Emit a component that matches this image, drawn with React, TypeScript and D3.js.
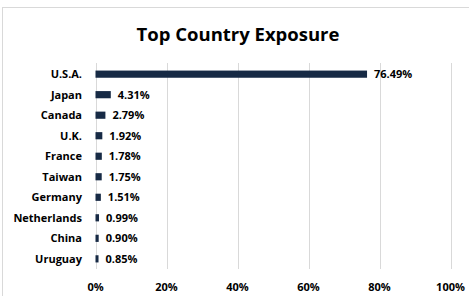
import React, { useRef, useEffect } from "react";
import * as d3 from "d3";

const countries = ["U.S.A.", "Japan", "Canada", "U.K.", "France", "Taiwan", "Germany", "Netherlands", "China", "Uruguay"];
const exposure = [76.49, 4.31, 2.79, 1.92, 1.78, 1.75, 1.51, 0.99, 0.9, 0.85];
const xTicks = [0, 20, 40, 60, 80, 100];

const App: React.FC = () => {
  const ref = useRef<SVGSVGElement | null>(null);

  useEffect(() => {
    if (!ref.current) return;
    const svg = d3.select(ref.current);
    svg.selectAll("*").remove();

    const width = 469;
    const height = 296;
    const font = "'Open Sans', sans-serif";

    svg.attr("width", width).attr("height", height);

    // chart frame
    svg
      .append("rect")
      .attr("x", 2.5)
      .attr("y", 7.5)
      .attr("width", width + 10)
      .attr("height", height + 10)
      .attr("fill", "#fff")
      .attr("stroke", "#d9d9d9");

    svg
      .append("text")
      .attr("x", 238)
      .attr("y", 40.5)
      .attr("text-anchor", "middle")
      .attr("font-family", font)
      .attr("font-weight", "bold")
      .attr("font-size", 18.5)
      .attr("fill", "#000")
      .text("Top Country Exposure");

    const x = d3.scaleLinear().domain([0, 100]).range([95.5, 450.5]);
    const y = d3.scaleBand().domain(countries).range([64, 269]).paddingInner(0.65).paddingOuter(0.32);

    const data = countries.map((c, i) => ({ country: c, value: exposure[i] }));

    svg
      .append("g")
      .selectAll("line")
      .data(xTicks)
      .enter()
      .append("line")
      .attr("x1", (d) => Math.round(x(d)) + 0.5)
      .attr("x2", (d) => Math.round(x(d)) + 0.5)
      .attr("y1", 63)
      .attr("y2", 269)
      .attr("stroke", "#d9d9d9")
      .attr("stroke-width", 1);

    svg
      .append("g")
      .selectAll("text")
      .data(xTicks)
      .enter()
      .append("text")
      .attr("x", (d) => x(d))
      .attr("y", 291)
      .attr("text-anchor", "middle")
      .attr("font-family", font)
      .attr("font-weight", "bold")
      .attr("font-size", 11)
      .attr("fill", "#000")
      .text((d) => `${d}%`);

    svg
      .append("g")
      .selectAll("rect")
      .data(data)
      .enter()
      .append("rect")
      .attr("x", x(0))
      .attr("y", (d) => y(d.country) || 0)
      .attr("width", (d) => x(d.value) - x(0))
      .attr("height", y.bandwidth())
      .attr("fill", "#172a45");

    svg
      .append("g")
      .selectAll("text")
      .data(data)
      .enter()
      .append("text")
      .attr("x", 82)
      .attr("y", (d) => (y(d.country) || 0) + y.bandwidth() / 2)
      .attr("dy", "0.35em")
      .attr("text-anchor", "end")
      .attr("font-family", font)
      .attr("font-weight", "bold")
      .attr("font-size", 11)
      .attr("fill", "#000")
      .text((d) => d.country);

    svg
      .append("g")
      .selectAll("text")
      .data(data)
      .enter()
      .append("text")
      .attr("x", (d) => x(d.value) + 7)
      .attr("y", (d) => (y(d.country) || 0) + y.bandwidth() / 2)
      .attr("dy", "0.35em")
      .attr("font-family", font)
      .attr("font-weight", "bold")
      .attr("font-size", 11)
      .attr("fill", "#000")
      .text((d) => `${d.value.toFixed(2)}%`);
  }, []);

  return (
    <div style={{ position: "absolute", left: 0, top: 0 }}>
      <svg ref={ref} style={{ display: "block" }} />
    </div>
  );
};

export default App;
